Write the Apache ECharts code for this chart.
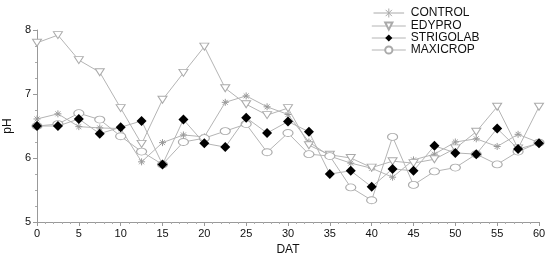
<!DOCTYPE html>
<html>
<head>
<meta charset="utf-8">
<script src="https://cdn.jsdelivr.net/npm/echarts@6/dist/echarts.min.js"></script>
<style>
  html, body { margin: 0; padding: 0; background: #fff; }
  #chart { width: 550px; height: 255px; }
</style>
</head>
<body>
<div id="chart"></div>
<script>
// days after transplant
const dat = [0, 2.5, 5, 7.5, 10, 12.5, 15, 17.5, 20, 22.5, 25, 27.5, 30, 32.5, 35, 37.5, 40, 42.5, 45, 47.5, 50, 52.5, 55, 57.5, 60];

const control = [6.61, 6.69, 6.49, 6.47, 6.46, 5.94, 6.24, 6.36, 6.33, 6.87, 6.97, 6.8, 6.68, 6.25, 6.03, 5.92, 5.84, 5.7, 5.97, 6.06, 6.25, 6.3, 6.18, 6.37, 6.24];
const edypro = [7.8, 7.92, 7.53, 7.34, 6.78, 6.22, 6.91, 7.33, 7.74, 7.09, 6.84, 6.67, 6.78, 6.2, 6.05, 6.0, 5.85, 5.95, 5.92, 5.98, 6.15, 6.41, 6.8, 6.15, 6.8];
const strigolab = [6.5, 6.5, 6.61, 6.38, 6.48, 6.58, 5.9, 6.6, 6.23, 6.17, 6.63, 6.39, 6.57, 6.41, 5.75, 5.8, 5.55, 5.83, 5.8, 6.19, 6.08, 6.06, 6.46, 6.14, 6.23];
const maxicrop = [6.5, 6.53, 6.7, 6.6, 6.34, 6.1, 5.9, 6.25, 6.31, 6.42, 6.53, 6.09, 6.39, 6.06, 6.03, 5.54, 5.34, 6.33, 5.58, 5.79, 5.85, 6.06, 5.9, 6.1, 6.24];

const lineGray = '#b4b4b4';
const star = 'path://M0,5 L10,5 M5,0 L5,10 M1.5,1.5 L8.5,8.5 M8.5,1.5 L1.5,8.5';
// legend icon: line with the star on it
const starLegend = 'path://M0,5 L34,5 M17,0 L17,10 M13.5,1.5 L20.5,8.5 M20.5,1.5 L13.5,8.5';

function pts(vals) {
  return dat.map((d, i) => [d, vals[i]]);
}

const chart = echarts.init(document.getElementById('chart'));

chart.setOption({
  animation: false,
  textStyle: { fontFamily: 'Liberation Sans, Arial, sans-serif' },
  grid: { left: 37, right: 11, top: 30, bottom: 33, outerBoundsMode: 'none' },
  legend: {
    orient: 'vertical',
    left: 366,
    top: 1,
    itemWidth: 34,
    itemHeight: 9,
    itemGap: 0,
    lineStyle: { width: 1 },
    textStyle: { fontSize: 12, lineHeight: 12, color: '#111' },
    data: [
      { name: 'CONTROL', icon: starLegend, itemStyle: { color: 'none', borderColor: '#aaa', borderWidth: 1 } },
      'EDYPRO',
      'STRIGOLAB',
      'MAXICROP'
    ]
  },
  xAxis: {
    type: 'value',
    min: 0,
    max: 60,
    interval: 5,
    name: 'DAT',
    nameLocation: 'middle',
    nameGap: 17,
    nameTextStyle: { fontSize: 12, color: '#111' },
    axisLine: { lineStyle: { color: '#999' } },
    axisTick: { length: 4, lineStyle: { color: '#999' } },
    minorTick: { show: true, splitNumber: 5, length: 2, lineStyle: { color: '#aaa' } },
    axisLabel: { fontSize: 11, color: '#111', margin: 6 },
    splitLine: { show: false }
  },
  yAxis: {
    type: 'value',
    min: 5,
    max: 8,
    interval: 1,
    name: 'pH',
    nameLocation: 'middle',
    nameGap: 20,
    nameTextStyle: { fontSize: 12, color: '#111' },
    axisLine: { show: true, lineStyle: { color: '#999' } },
    axisTick: { show: true, length: 4, lineStyle: { color: '#999' } },
    minorTick: { show: true, splitNumber: 4, length: 2, lineStyle: { color: '#aaa' } },
    axisLabel: { fontSize: 11, color: '#111', margin: 6 },
    splitLine: { show: false }
  },
  series: [
    {
      name: 'CONTROL',
      type: 'line',
      data: pts(control),
      symbol: star,
      symbolSize: 7,
      lineStyle: { color: lineGray, width: 1 },
      itemStyle: { color: 'none', borderColor: '#999', borderWidth: 1 },
      z: 2
    },
    {
      name: 'EDYPRO',
      type: 'line',
      data: pts(edypro),
      symbol: 'triangle',
      symbolRotate: 180,
      symbolSize: [9, 7],
      lineStyle: { color: lineGray, width: 1 },
      itemStyle: { color: '#fff', borderColor: '#aaa', borderWidth: 1 },
      z: 3
    },
    {
      name: 'STRIGOLAB',
      type: 'line',
      data: pts(strigolab),
      symbol: 'diamond',
      symbolSize: [10, 10],
      lineStyle: { color: lineGray, width: 1 },
      itemStyle: { color: '#000', borderColor: '#000', borderWidth: 0 },
      z: 5
    },
    {
      name: 'MAXICROP',
      type: 'line',
      data: pts(maxicrop),
      symbol: 'circle',
      symbolSize: [10, 7],
      lineStyle: { color: lineGray, width: 1 },
      itemStyle: { color: '#fff', borderColor: '#aaa', borderWidth: 1 },
      z: 4
    }
  ]
});
</script>
</body>
</html>
